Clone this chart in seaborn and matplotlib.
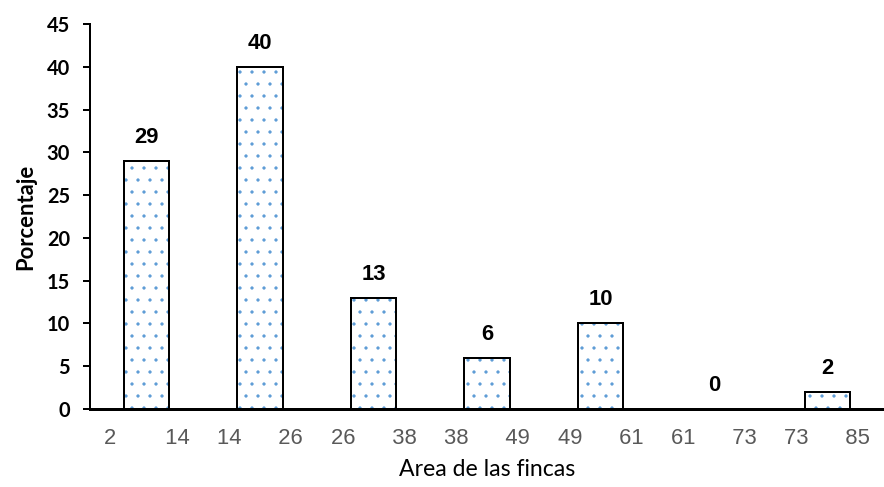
import matplotlib
matplotlib.use("Agg")
import matplotlib.pyplot as plt
import seaborn as sns
import pandas as pd

# Datos
lower = ["2", "14", "26", "38", "49", "61", "73"]
upper = ["14", "26", "38", "49", "61", "73", "85"]
porcentaje = [29, 40, 13, 6, 10, 0, 2]

# etiquetas "desde      hasta" (un digito ocupa unos dos espacios)
rangos = [a + " " * (6 + 2 * (2 - len(a))) + b for a, b in zip(lower, upper)]
df = pd.DataFrame({"rango": rangos, "porcentaje": porcentaje})

sns.set_style("white", {"text.color": "black", "axes.labelcolor": "black",
                        "xtick.color": "black", "ytick.color": "black"})
plt.rcParams["font.family"] = ["Liberation Sans", "DejaVu Sans"]
plt.rcParams["hatch.linewidth"] = 0.8

# dpi 72 -> 1 pt = 1 px, y el punteado queda con la separacion del original
DPI = 72
fig = plt.figure(figsize=(884 / DPI, 487 / DPI), dpi=DPI)
ax = fig.add_axes([90 / 884, 78 / 487, 794 / 884, 385 / 487])

# relleno punteado azul
sns.barplot(data=df, x="rango", y="porcentaje", ax=ax, width=0.4,
            color="white", edgecolor="#5B9BD5", linewidth=0, hatch=".")
# contorno negro
sns.barplot(data=df, x="rango", y="porcentaje", ax=ax, width=0.4,
            fill=False, edgecolor="black", linewidth=2)

for i, v in enumerate(porcentaje):
    ax.annotate(str(v), (i, v), xytext=(0, 18), textcoords="offset points",
                ha="center", va="baseline", fontsize=22, fontweight="bold",
                color="black", family=["Liberation Sans", "DejaVu Sans"])

ax.set_ylim(0, 45)
ax.set_xlim(-0.5, 6.5)
ax.set_yticks(range(0, 46, 5))
ax.tick_params(axis="y", left=True, length=7, width=2, color="black",
               labelcolor="black", direction="out", labelsize=20, pad=13)
for lab in ax.get_yticklabels():
    lab.set_fontweight("bold")
    lab.set_family(["Lato", "DejaVu Sans"])
ax.tick_params(axis="x", bottom=False, labelsize=22, labelcolor="#595959", pad=16)

for s in ["top", "right"]:
    ax.spines[s].set_visible(False)
ax.spines["left"].set_linewidth(2)
ax.spines["left"].set_color("black")
ax.spines["bottom"].set_linewidth(3)
ax.spines["bottom"].set_color("black")

ax.set_xlabel("Area de las fincas", fontsize=23, color="black",
              family=["Lato", "DejaVu Sans"], labelpad=10)
ax.set_ylabel("Porcentaje", fontsize=22, fontweight="bold", color="black",
              family=["Lato", "DejaVu Sans"], labelpad=10)

fig.savefig("out.png", dpi=DPI)
